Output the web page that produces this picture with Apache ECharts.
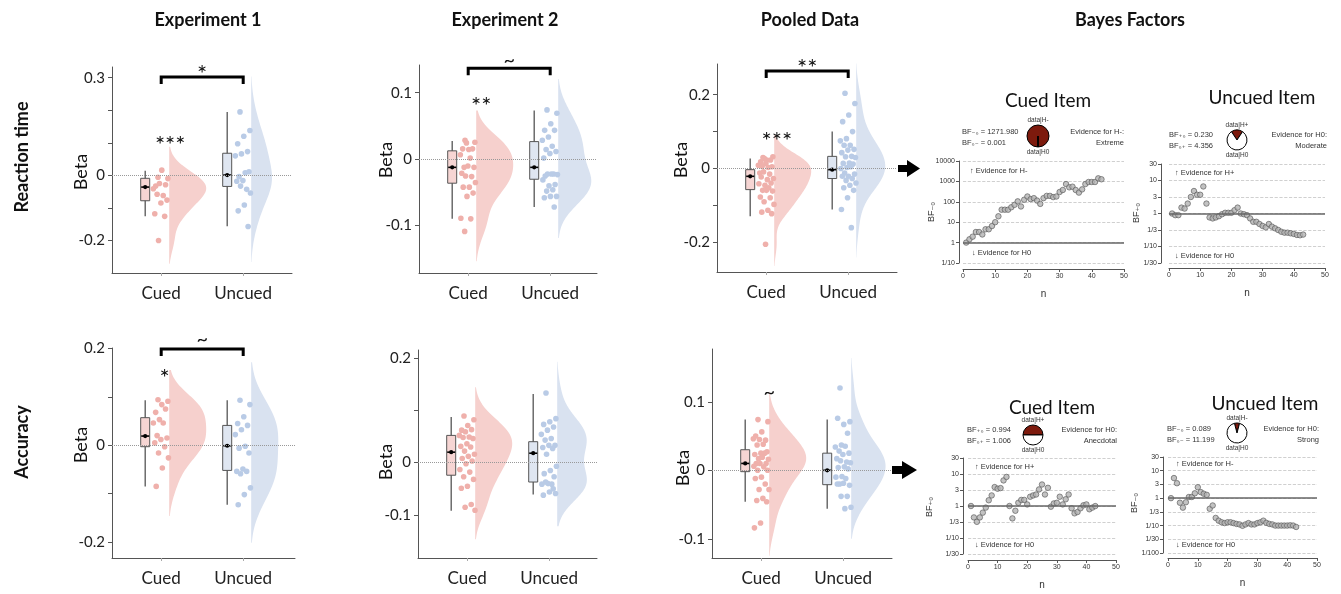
<!DOCTYPE html>
<html><head><meta charset="utf-8">
<script src="https://cdn.jsdelivr.net/npm/echarts@6/dist/echarts.min.js"></script>
<style>html,body{margin:0;padding:0;background:#fff}#c{width:1341px;height:594px}</style>
</head><body><div id="c"></div>
<script>
// ---------------- DATA ----------------
const categories = ['Cued', 'Uncued'];

// Reaction time betas
const rtExp1Cued = [-0.006,-0.010,0.016,-0.033,-0.029,-0.025,-0.041,-0.062,-0.058,-0.076,-0.085,-0.118,-0.126,-0.200];
const rtExp1Uncued = [0.195,0.138,0.120,0.097,0.073,0.066,0.060,0.008,-0.004,0.011,-0.016,-0.018,-0.043,-0.033,-0.054,-0.091,-0.109,-0.157];
const rtExp2Cued = [0.028,0.025,0.014,0.015,0.015,0.024,0.006,0.001,-0.013,-0.013,-0.011,-0.022,-0.027,-0.026,-0.036,-0.043,-0.043,-0.052,-0.057,-0.090,-0.091,-0.110];
const rtExp2Uncued = [0.074,0.069,0.053,0.043,0.043,0.033,0.028,0.019,0.014,0.011,0.008,0.001,-0.023,-0.023,-0.024,-0.023,-0.026,-0.039,-0.041,-0.032,-0.047,-0.049,-0.057,-0.057,-0.059,-0.073];
const rtPooledCued = [0.030,0.032,0.023,0.018,0.023,0.027,0.009,0.003,0.006,0.005,0.014,-0.012,-0.015,-0.009,-0.027,-0.030,-0.023,-0.039,-0.045,-0.041,-0.052,-0.059,-0.061,-0.059,-0.077,-0.079,-0.090,-0.097,-0.113,-0.118,-0.122,-0.205];
const rtPooledUncued = [0.204,0.176,0.145,0.127,0.100,0.081,0.075,0.063,0.063,0.052,0.050,0.043,0.033,0.032,0.030,0.015,0.014,0.012,0.003,0.000,0.005,-0.012,-0.015,-0.021,-0.021,-0.027,-0.032,-0.039,-0.045,-0.052,-0.059,-0.079,-0.111,-0.160];
// Accuracy betas
const accExp1Cued = [0.094,0.091,0.084,0.068,0.075,0.053,0.046,0.046,0.020,0.015,0.012,0.005,-0.003,-0.016,-0.026,-0.047,-0.085];
const accExp1Uncued = [0.093,0.084,0.059,0.045,0.041,0.032,0.022,-0.002,-0.006,-0.016,-0.049,-0.054,-0.054,-0.059,-0.088,-0.102,-0.123];
const accExp2Cued = [0.089,0.082,0.071,0.062,0.063,0.059,0.052,0.049,0.048,0.046,0.036,0.031,0.030,0.022,0.016,0.012,0.008,0.003,-0.002,-0.013,-0.018,-0.027,-0.032,-0.045,-0.049,-0.080,-0.085,-0.091];
const accExp2Uncued = [0.133,0.084,0.078,0.073,0.068,0.062,0.054,0.046,0.043,0.033,0.033,0.029,0.027,0.016,-0.007,-0.015,-0.021,-0.027,-0.040,-0.041,-0.041,-0.037,-0.059,-0.056,-0.062,-0.050];
const accPooledCued = [0.074,0.071,0.056,0.050,0.044,0.045,0.046,0.038,0.037,0.027,0.025,0.023,0.025,0.017,0.016,0.019,0.010,0.010,0.010,0.006,0.005,0.000,0.000,-0.010,-0.012,-0.020,-0.028,-0.028,-0.041,-0.044,-0.046,-0.077,-0.084];
const accPooledUncued = [0.120,0.071,0.067,0.076,0.054,0.037,0.034,0.035,0.028,0.025,0.023,0.017,0.012,0.014,0.011,0.005,0.004,0.002,-0.009,-0.010,-0.012,-0.020,-0.022,-0.019,-0.020,-0.038,-0.038,-0.054,-0.056];

// Box stats: [lower whisker, Q1, centre, Q3, upper whisker]
const rtExp1CuedBox = [-0.126,-0.078,-0.036,-0.009,0.014];
const rtExp1UncuedBox = [-0.156,-0.034,0.001,0.068,0.195];
const rtExp2CuedBox = [-0.091,-0.037,-0.013,0.012,0.027];
const rtExp2UncuedBox = [-0.073,-0.031,-0.013,0.026,0.073];
const rtPooledCuedBox = [-0.129,-0.057,-0.021,-0.003,0.027];
const rtPooledUncuedBox = [-0.111,-0.027,-0.003,0.033,0.100];
const accExp1CuedBox = [-0.085,-0.003,0.019,0.057,0.093];
const accExp1UncuedBox = [-0.123,-0.052,-0.001,0.041,0.093];
const accExp2CuedBox = [-0.092,-0.024,0.020,0.052,0.087];
const accExp2UncuedBox = [-0.061,-0.037,0.018,0.040,0.131];
const accPooledCuedBox = [-0.046,-0.002,0.010,0.030,0.074];
const accPooledUncuedBox = [-0.056,-0.021,0.000,0.025,0.074];

// Y tick values / labelled values
const rtExp1Ticks = [-0.2,-0.1,0,0.1,0.2,0.3], rtExp1Labels = [-0.2,0,0.3];
const rtExp2Ticks = [-0.1,0,0.1], rtExp2Labels = [-0.1,0,0.1];
const rtPooledTicks = [-0.2,-0.1,0,0.1,0.2], rtPooledLabels = [-0.2,0,0.2];
const accExp1Ticks = [-0.2,-0.1,0,0.1,0.2], accExp1Labels = [-0.2,0,0.2];
const accExp2Ticks = [-0.1,0,0.1,0.2], accExp2Labels = [-0.1,0,0.2];
const accPooledTicks = [-0.1,0,0.1], accPooledLabels = [-0.1,0,0.1];

// Sequential Bayes factors
const bfN = [1,2,3,4,5,6,7,8,9,10,11,12,13,14,15,16,17,18,19,20,21,22,23,24,25,26,27,28,29,30,31,32,33,34,35,36,37,38,39,40,41,42,43];
const bfCuedRT = [1,1.45,1.95,3.3,3.3,2.5,4.5,4.5,6.5,10,19.5,41,41,41,54,71,105,59,126,182,135,151,115,79,151,195,195,170,182,302,380,741,513,550,380,282,407,741,933,933,933,1413,1272];
const bfUncuedRT = [1,0.89,0.89,1.51,1.41,2.0,3.16,4.8,3.7,3.7,6.6,2.0,0.76,0.71,0.76,0.83,0.95,1.05,1.05,1.05,1.26,1.51,1.0,0.95,0.89,0.71,0.56,0.56,0.48,0.42,0.38,0.48,0.40,0.355,0.316,0.28,0.263,0.263,0.251,0.24,0.224,0.219,0.230];
const bfCuedAcc = [1,0.44,0.32,0.44,0.62,0.89,1.51,2.14,3.9,3.47,3.63,6.3,8.1,1.0,0.41,0.71,1.26,1.55,1.55,1.12,1.95,2.14,2.29,3.3,4.7,2.29,3.7,0.95,1.2,1.26,1.95,1.12,1.62,2.29,0.85,0.59,0.65,0.85,1.05,1.12,0.79,0.89,0.994];
const bfUncuedAcc = [1,5.4,3.5,0.68,0.45,0.71,1.1,1.1,1.5,2.5,1.66,1.45,1.32,0.41,0.54,0.19,0.151,0.132,0.123,0.132,0.132,0.123,0.115,0.11,0.098,0.11,0.123,0.11,0.11,0.123,0.132,0.151,0.126,0.115,0.11,0.1,0.1,0.1,0.1,0.1,0.102,0.1,0.089];
const bfFinal = [1271.980, 0.230, 0.994, 0.089];
const bfInverse = ['0.001', '4.356', '1.006', '11.199'];
const bfSub = ['₋₀', '₊₀', '₊₀', '₋₀'];
const bfSubInv = ['₀₋', '₀₊', '₀₊', '₀₋'];
const bfHyp = ['H-', 'H+', 'H+', 'H-'];
const bfEvidence = ['Evidence for H-:', 'Evidence for H0:', 'Evidence for H0:', 'Evidence for H0:'];
const bfStrength = ['Extreme', 'Moderate', 'Anecdotal', 'Strong'];
const bfTitles = ['Cued Item', 'Uncued Item', 'Cued Item', 'Uncued Item'];

// ---------------- LAYOUT ----------------
const PX_PER_CAT = 82;
const panels = [
  {grid:{left:112,top:67,width:180,height:206}, yMin:-0.30, yMax:0.333, ticks:rtExp1Ticks, labels:rtExp1Labels, c:rtExp1Cued, u:rtExp1Uncued, cb:rtExp1CuedBox, ub:rtExp1UncuedBox, beta:[81,172]},
  {grid:{left:419,top:65,width:178,height:208}, yMin:-0.173, yMax:0.142, ticks:rtExp2Ticks, labels:rtExp2Labels, c:rtExp2Cued, u:rtExp2Uncued, cb:rtExp2CuedBox, ub:rtExp2UncuedBox, beta:[386,160]},
  {grid:{left:717,top:64,width:180,height:208}, yMin:-0.28, yMax:0.283, ticks:rtPooledTicks, labels:rtPooledLabels, c:rtPooledCued, u:rtPooledUncued, cb:rtPooledCuedBox, ub:rtPooledUncuedBox, beta:[681,160]},
  {grid:{left:112,top:348,width:183,height:210}, yMin:-0.233, yMax:0.201, ticks:accExp1Ticks, labels:accExp1Labels, c:accExp1Cued, u:accExp1Uncued, cb:accExp1CuedBox, ub:accExp1UncuedBox, beta:[81,445]},
  {grid:{left:418,top:350,width:179,height:208}, yMin:-0.182, yMax:0.215, ticks:accExp2Ticks, labels:accExp2Labels, c:accExp2Cued, u:accExp2Uncued, cb:accExp2CuedBox, ub:accExp2UncuedBox, beta:[386,462]},
  {grid:{left:712,top:349,width:180,height:209}, yMin:-0.128, yMax:0.177, ticks:accPooledTicks, labels:accPooledLabels, c:accPooledCued, u:accPooledUncued, cb:accPooledCuedBox, ub:accPooledUncuedBox, beta:[683,468]}
];
// significance brackets (between the two groups) and single marks
const brackets = [
  {p:0, y:0.302, text:'*', dy:-3, size:24},
  {p:1, y:0.137, text:'~', dy:-8, size:20},
  {p:2, y:0.264, text:'**', dy:-3, size:24},
  {p:3, y:0.199, text:'~', dy:-9, size:20}
];
const marks = [
  {p:0, x:0.11, y:0.112, text:'***', dy:6, size:24},
  {p:1, x:0.16, y:0.089, text:'**', dy:6, size:24},
  {p:2, x:0.13, y:0.091, text:'***', dy:6, size:24},
  {p:3, x:0.04, y:0.151, text:'*', dy:6, size:24},
  {p:5, x:0.10, y:0.114, text:'~', dy:0, size:20}
];
const bfLayout = [
  {grid:{left:963,top:161,width:161,height:102}, yMin:-1, yMax:4, yInt:1, yOff:4, xOff:6, yName:[932,212], title:[1048,101], txtL:[962,132], pie:[1038,136,11], txtR:[1124,132], evUp:[970,171], evDn:[972,253]},
  {grid:{left:1169,top:164,width:156,height:99}, yMin:-1.5, yMax:1.5, yInt:0.5, yOff:8, xOff:5, yName:[1137,213], title:[1262,98], txtL:[1169,135], pie:[1237,140,10], txtR:[1327,135], evUp:[1175,173], evDn:[1175,256]},
  {grid:{left:968,top:458,width:148,height:96}, yMin:-1.5, yMax:1.5, yInt:0.5, yOff:5, xOff:6, yName:[930,507], title:[1052,408], txtL:[967,430], pie:[1033,435,10], txtR:[1117,430], evUp:[975,467], evDn:[975,545]},
  {grid:{left:1168,top:457,width:149,height:96}, yMin:-2, yMax:1.5, yInt:0.5, yOff:5, xOff:5, yName:[1135,503], title:[1265,404], txtL:[1167,429], pie:[1237,433,10], txtR:[1319,429], evUp:[1176,464], evDn:[1176,545]}
];
const bfSeries = [bfCuedRT, bfUncuedRT, bfCuedAcc, bfUncuedAcc];

const COL = {
  cPt:'#efb0ab', uPt:'#b9cbe6', cVio:'#f6d0cd', uVio:'#d9e2f0', cBox:'#f6d5d3', uBox:'#dfe6f1'
};

// ---------------- HELPERS ----------------
function kde(values){
  const s=[...values].sort((a,b)=>a-b), n=s.length;
  const mean=s.reduce((a,b)=>a+b,0)/n;
  const sd=Math.sqrt(s.reduce((a,b)=>a+(b-mean)*(b-mean),0)/(n-1));
  const h=1.06*sd*Math.pow(n,-0.2);
  const lo=s[0]-2*h, hi=s[n-1]+2*h, out=[];
  for(let k=0;k<=120;k++){
    const y=lo+(hi-lo)*k/120; let d=0;
    for(const v of s){ const z=(y-v)/h; d+=Math.exp(-0.5*z*z); }
    out.push([y, d/(n*h*Math.sqrt(2*Math.PI))]);
  }
  return out;
}
function jitter(i){ return ((i*0.6180339887+0.3)%1)*16-8; }
function fmtBeta(v){ if(Math.abs(v)<1e-9) return '0'; return String(Math.round(v*100)/100); }
function bfLabel(v){
  const a=Math.abs(v), k=Math.floor(a+1e-9), half=(a-k)>0.25;
  const num=Math.round(half?3*Math.pow(10,k):Math.pow(10,k));
  if(Math.abs(v)<1e-9) return '1';
  return v<0 ? '1/'+num : String(num);
}

const grids=[], xAxes=[], yAxes=[], series=[], graphics=[];
const BASEFONT='Lato, "Open Sans", sans-serif';

panels.forEach((P, pi)=>{
  grids.push(Object.assign({containLabel:false}, P.grid));
  xAxes.push({type:'value', gridIndex:pi, min:-0.6, max:-0.6+P.grid.width/PX_PER_CAT,
    axisLine:{show:true, onZero:false, lineStyle:{color:'#555', width:1}},
    axisTick:{show:true, customValues:[0,1], length:3, lineStyle:{color:'#aaa'}},
    axisLabel:{show:true, customValues:[0,1], formatter:v=>categories[Math.round(v)], fontSize:17, color:'#222', margin:12, fontFamily:BASEFONT},
    splitLine:{show:false}});
  yAxes.push({type:'value', gridIndex:pi, min:P.yMin, max:P.yMax,
    axisLine:{show:true, onZero:false, lineStyle:{color:'#555', width:1}},
    axisTick:{show:true, customValues:P.ticks, length:4, lineStyle:{color:'#555'}},
    axisLabel:{show:true, customValues:P.labels, formatter:fmtBeta, fontSize:15, color:'#222', margin:7, fontFamily:BASEFONT},
    splitLine:{show:false}});
  const dC=kde(P.c), dU=kde(P.u);
  const maxD=Math.max(...dC.map(d=>d[1]), ...dU.map(d=>d[1]));
  const S=37/maxD;
  [[P.c,P.cb,dC,COL.cVio,COL.cBox,COL.cPt],[P.u,P.ub,dU,COL.uVio,COL.uBox,COL.uPt]].forEach(([vals,box,dens,vc,bc,pc],gi)=>{
    series.push({type:'custom', xAxisIndex:pi, yAxisIndex:pi, data:[[gi,0]], silent:true, clip:false, z:1,
      renderItem:(params, api)=>{
        const ch=[];
        const base=api.coord([gi,0]);
        const vx=base[0]+8;
        const poly=dens.map(([y,d])=>[vx+d*S, api.coord([gi,y])[1]]);
        poly.push([vx, api.coord([gi,dens[dens.length-1][0]])[1]]);
        poly.push([vx, api.coord([gi,dens[0][0]])[1]]);
        ch.push({type:'polygon', shape:{points:poly}, style:{fill:vc}});
        const bx=base[0]-16;
        const Y=box.map(b=>api.coord([gi,b])[1]);
        ch.push({type:'line', shape:{x1:bx,y1:Y[0],x2:bx,y2:Y[4]}, style:{stroke:'#555', lineWidth:1.3}});
        ch.push({type:'rect', shape:{x:bx-4.5,y:Y[3],width:9,height:Y[1]-Y[3]}, style:{fill:bc, stroke:'#555', lineWidth:1}});
        ch.push({type:'line', shape:{x1:bx-4,y1:Y[2],x2:bx+4,y2:Y[2]}, style:{stroke:'#000', lineWidth:1.6}});
        ch.push({type:'circle', shape:{cx:bx,cy:Y[2],r:2.1}, style:{fill:'#000'}});
        return {type:'group', children:ch};
      }});
    const ptSeries={type:'custom', xAxisIndex:pi, yAxisIndex:pi, data:vals.map(v=>[gi,v]), silent:true, clip:false, z:2,
      renderItem:(params, api)=>{
        const c=api.coord([api.value(0), api.value(1)]);
        return {type:'circle', shape:{cx:c[0]+jitter(params.dataIndex), cy:c[1], r:2.8}, style:{fill:pc}};
      }};
    if(gi===0){
      ptSeries.markLine={silent:true, symbol:['none','none'], label:{show:false}, animation:false,
        lineStyle:{type:'dotted', color:'#999', width:1}, data:[{yAxis:0}]};
    }
    series.push(ptSeries);
  });
  graphics.push({type:'text', x:P.beta[0], y:P.beta[1], rotation:Math.PI/2,
    style:{text:'Beta', x:0, y:0, fill:'#111', font:'18px '+BASEFONT, align:'center', verticalAlign:'middle', textAlign:'center', textVerticalAlign:'middle'}});
});

// brackets and significance marks
brackets.forEach(B=>{
  series.push({type:'custom', xAxisIndex:B.p, yAxisIndex:B.p, data:[[0,B.y]], silent:true, clip:false, z:5,
    renderItem:(params, api)=>{
      const a=api.coord([0,B.y]), b=api.coord([1,B.y]);
      return {type:'group', children:[
        {type:'polyline', shape:{points:[[a[0],a[1]+7],[a[0],a[1]],[b[0],b[1]],[b[0],b[1]+7]]}, style:{stroke:'#000', lineWidth:3, fill:null, lineJoin:'miter'}},
        {type:'text', x:(a[0]+b[0])/2, y:a[1]+B.dy, style:{text:B.text, fill:'#111', font:B.size+'px '+BASEFONT, align:'center', verticalAlign:'middle', textAlign:'center', textVerticalAlign:'middle'}}
      ]};
    }});
});
marks.forEach(M=>{
  series.push({type:'custom', xAxisIndex:M.p, yAxisIndex:M.p, data:[[M.x,M.y]], silent:true, clip:false, z:5,
    renderItem:(params, api)=>{
      const a=api.coord([M.x,M.y]);
      return {type:'text', x:a[0], y:a[1]+M.dy, style:{text:M.text, fill:'#111', font:M.size+'px '+BASEFONT, align:'center', verticalAlign:'middle', textAlign:'center', textVerticalAlign:'middle'}};
    }});
});

// Bayes factor panels
const SMALL='"Liberation Sans", Arial, "DejaVu Sans", sans-serif';
bfLayout.forEach((L, bi)=>{
  const gi=panels.length+bi;
  grids.push(Object.assign({containLabel:false}, L.grid));
  xAxes.push({type:'value', gridIndex:gi, min:0, max:50, interval:10, offset:L.xOff,
    axisLine:{show:true, onZero:false, lineStyle:{color:'#555', width:1}},
    axisTick:{show:true, length:3, lineStyle:{color:'#555'}},
    axisLabel:{fontSize:7, color:'#333', margin:4, fontFamily:SMALL},
    name:'n', nameLocation:'middle', nameGap:20, nameTextStyle:{fontSize:10, color:'#333', fontFamily:SMALL},
    splitLine:{show:false}});
  yAxes.push({type:'value', gridIndex:gi, min:L.yMin, max:L.yMax, interval:L.yInt, offset:L.yOff,
    axisLine:{show:true, onZero:false, lineStyle:{color:'#555', width:1}},
    axisTick:{show:true, length:3, lineStyle:{color:'#555'}},
    axisLabel:{fontSize:7, color:'#333', margin:4, formatter:bfLabel, fontFamily:SMALL},
    splitLine:{show:true, lineStyle:{type:'dashed', color:'#c4c4c4', width:0.8}}});
  series.push({type:'scatter', xAxisIndex:gi, yAxisIndex:gi, symbol:'circle', symbolSize:5.5, silent:true, z:3,
    itemStyle:{color:'#b3b3b3', borderColor:'#555', borderWidth:0.8},
    data:bfN.map((n,i)=>[n, Math.log10(bfSeries[bi][i])]),
    markLine:{silent:true, symbol:['none','none'], label:{show:false}, animation:false,
      lineStyle:{type:'solid', color:'#666', width:1.5}, data:[{yAxis:0}]}});
  const bf=bfFinal[bi], p=bf/(1+bf), ang=360*p;
  series.push({type:'pie', center:[L.pie[0],L.pie[1]], radius:L.pie[2], startAngle:90+ang/2, clockwise:true, silent:true,
    label:{show:false}, labelLine:{show:false}, minAngle:0, avoidLabelOverlap:false,
    itemStyle:{borderColor:'#000', borderWidth:1},
    data:[{value:p, itemStyle:{color:'#7d1a0d'}},{value:1-p, itemStyle:{color:'#fff'}}]});
  const T=(text,x,y,font,align,fill,rot)=>{
    const el={type:'text', x, y, style:{text, x:0, y:0, fill:fill||'#333', font, align:align||'left', verticalAlign:'middle', textAlign:align||'left', textVerticalAlign:'middle'}};
    if(rot) el.rotation=rot;
    graphics.push(el);
  };
  T(bfTitles[bi], L.title[0], L.title[1], '19px '+BASEFONT, 'center', '#111');
  T('BF'+bfSub[bi]+' = '+bf.toFixed(3), L.txtL[0], L.txtL[1], '7.5px '+SMALL);
  T('BF'+bfSubInv[bi]+' = '+bfInverse[bi], L.txtL[0], L.txtL[1]+11, '7.5px '+SMALL);
  T('data|'+bfHyp[bi], L.pie[0], L.pie[1]-L.pie[2]-5, '6.5px '+SMALL, 'center');
  T('data|H0', L.pie[0], L.pie[1]+L.pie[2]+5, '6.5px '+SMALL, 'center');
  T(bfEvidence[bi], L.txtR[0], L.txtR[1], '7.5px '+SMALL, 'right');
  T(bfStrength[bi], L.txtR[0], L.txtR[1]+11, '7.5px '+SMALL, 'right');
  T('↑ Evidence for '+bfHyp[bi], L.evUp[0], L.evUp[1], '7.5px '+SMALL);
  T('↓ Evidence for H0', L.evDn[0], L.evDn[1], '7.5px '+SMALL);
  T('BF'+bfSub[bi], L.yName[0], L.yName[1], '9px '+SMALL, 'center', '#333', Math.PI/2);
});

// headings
const headT=(text,x,y,rot)=>{
  const el={type:'text', x, y, style:{text, x:0, y:0, fill:'#111', font:'bold 18px '+BASEFONT, align:'center', verticalAlign:'middle', textAlign:'center', textVerticalAlign:'middle'}};
  if(rot) el.rotation=rot;
  graphics.push(el);
};
headT('Experiment 1', 208, 20);
headT('Experiment 2', 505, 20);
headT('Pooled Data', 810, 20);
headT('Bayes Factors', 1130, 20);
headT('Reaction time', 22, 157, Math.PI/2);
headT('Accuracy', 22, 442, Math.PI/2);
// arrows
graphics.push({type:'polygon', shape:{points:[[898,165],[907,165],[907,160],[920,168.5],[907,177],[907,172],[898,172]]}, style:{fill:'#000'}});
graphics.push({type:'polygon', shape:{points:[[892,466],[902,466],[902,461],[917,470],[902,479],[902,474],[892,474]]}, style:{fill:'#000'}});

const chart=echarts.init(document.getElementById('c'), null, {renderer:'canvas'});
chart.setOption({animation:false, backgroundColor:'#fff', textStyle:{fontFamily:BASEFONT},
  grid:grids, xAxis:xAxes, yAxis:yAxes, series, graphic:{elements:graphics}});
</script></body></html>
